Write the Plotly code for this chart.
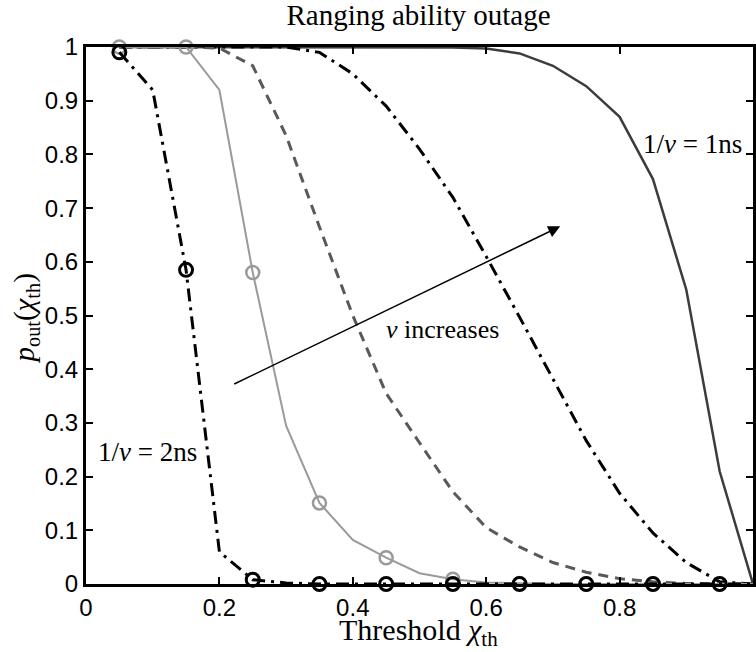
import plotly.graph_objects as go

# ---- data ----
x_grid = [0.05, 0.10, 0.15, 0.20, 0.25, 0.30, 0.35, 0.40, 0.45, 0.50,
          0.55, 0.60, 0.65, 0.70, 0.75, 0.80, 0.85, 0.90, 0.95, 1.00]

# 1/nu = 2 ns (black dash-dot, black circles)
p_2ns = [0.99, 0.92, 0.585, 0.06, 0.008, 0.002, 0, 0, 0, 0,
         0, 0, 0, 0, 0, 0, 0, 0, 0, 0]
# gray solid with gray circles
p_gray = [1.0, 1.0, 1.0, 0.92, 0.58, 0.295, 0.151, 0.082, 0.049, 0.02,
          0.009, 0.003, 0.001, 0, 0, 0, 0, 0, 0, 0]
# gray dashed
p_dash = [1.0, 1.0, 1.0, 0.998, 0.965, 0.835, 0.665, 0.5, 0.355, 0.263,
          0.172, 0.105, 0.069, 0.04, 0.022, 0.01, 0.004, 0.001, 0, 0]
# black dash-dot (no markers)
p_dashdot = [1.0, 1.0, 1.0, 1.0, 1.0, 1.0, 0.99, 0.95, 0.89, 0.81,
             0.72, 0.61, 0.497, 0.382, 0.267, 0.169, 0.095, 0.04, 0.004, 0]
# 1/nu = 1 ns (dark solid)
p_1ns = [1.0, 1.0, 1.0, 1.0, 1.0, 1.0, 1.0, 1.0, 1.0, 1.0,
         0.999, 0.997, 0.988, 0.965, 0.927, 0.87, 0.754, 0.548, 0.21, 0.0]

x_ticks = [0, 0.2, 0.4, 0.6, 0.8, 1]
x_ticklabels = ["0", "0.2", "0.4", "0.6", "0.8", "1"]
y_ticks = [0, 0.1, 0.2, 0.3, 0.4, 0.5, 0.6, 0.7, 0.8, 0.9, 1]
y_ticklabels = ["0", "0.1", "0.2", "0.3", "0.4", "0.5", "0.6", "0.7", "0.8", "0.9", "1"]

SERIF = "Liberation Serif"
SANS = "Liberation Sans"

fig = go.Figure()

fig.add_trace(go.Scatter(x=x_grid, y=p_1ns, mode="lines",
                         line=dict(color="#3c3c3c", width=2.5)))
fig.add_trace(go.Scatter(x=x_grid, y=p_dashdot, mode="lines",
                         line=dict(color="black", width=3, dash="13px,6px,3px,6px")))
fig.add_trace(go.Scatter(x=x_grid, y=p_dash, mode="lines",
                         line=dict(color="#595959", width=3, dash="10px,7px")))
fig.add_trace(go.Scatter(x=x_grid, y=p_gray, mode="lines",
                         line=dict(color="#9a9a9a", width=2)))
fig.add_trace(go.Scatter(x=x_grid[::2], y=p_gray[::2], mode="markers", cliponaxis=False,
                         marker=dict(symbol="circle-open", size=13, color="#9a9a9a",
                                     line=dict(width=2.5, color="#9a9a9a"))))
fig.add_trace(go.Scatter(x=x_grid, y=p_2ns, mode="lines",
                         line=dict(color="black", width=3, dash="13px,6px,3px,6px")))
fig.add_trace(go.Scatter(x=x_grid[::2], y=p_2ns[::2], mode="markers", cliponaxis=False,
                         marker=dict(symbol="circle-open", size=13, color="black",
                                     line=dict(width=3, color="black"))))

fig.update_layout(
    width=756, height=652,
    margin=dict(l=86, r=3, t=47, b=68, autoexpand=False),
    paper_bgcolor="white", plot_bgcolor="white",
    showlegend=False,
    title=dict(text="Ranging ability outage", x=0.5536, xanchor="center",
               y=0.977, yanchor="middle",
               font=dict(family=SERIF, size=29, color="black")),
    font=dict(family=SANS, color="black"),
)

axis_common = dict(showgrid=False, zeroline=False, showline=True, linecolor="black",
                   linewidth=3, mirror="ticks", ticks="inside", ticklen=7,
                   tickwidth=2, tickcolor="black", automargin=False,
                   tickfont=dict(family=SANS, size=24, color="black"))

fig.update_xaxes(range=[0, 1], tickvals=x_ticks, ticktext=x_ticklabels, **axis_common)
fig.update_yaxes(range=[0, 1], tickvals=y_ticks, ticktext=y_ticklabels, **axis_common)

# axis titles placed as annotations for exact positioning
fig.add_annotation(x=0.5, y=0, xref="paper", yref="paper", yanchor="middle",
                   yshift=-48, xshift=-1, showarrow=False,
                   text="Threshold <i>χ</i><sub>th</sub>",
                   font=dict(family=SERIF, size=30, color="black"))
fig.add_annotation(x=0, y=0.5, xref="paper", yref="paper", xanchor="center",
                   yanchor="middle", xshift=-61, yshift=-3, textangle=-90,
                   showarrow=False,
                   text="<i>p</i><sub>out</sub>(<i>χ</i><sub>th</sub>)",
                   font=dict(family=SERIF, size=29, color="black"))

# annotations
fig.add_annotation(x=0.91, y=0.819, xref="x", yref="y", text="1/<i>ν</i> = 1ns",
                   showarrow=False, font=dict(family=SERIF, size=27, color="black"))
fig.add_annotation(x=0.092, y=0.246, xref="x", yref="y", text="1/<i>ν</i> = 2ns",
                   showarrow=False, font=dict(family=SERIF, size=27, color="black"))
fig.add_annotation(x=0.535, y=0.474, xref="x", yref="y", text="<i>ν</i> increases",
                   showarrow=False, font=dict(family=SERIF, size=26, color="black"))
fig.add_annotation(x=0.711, y=0.666, ax=0.22, ay=0.371, xref="x", yref="y",
                   axref="x", ayref="y", text="", showarrow=True,
                   arrowhead=2, arrowsize=1.6, arrowwidth=1.5, arrowcolor="black")

# remove the default 8px page margin so the figure fills the window exactly
fig.write_html("out.html", config={"displayModeBar": False},
               post_script="document.body.style.margin='0';")
